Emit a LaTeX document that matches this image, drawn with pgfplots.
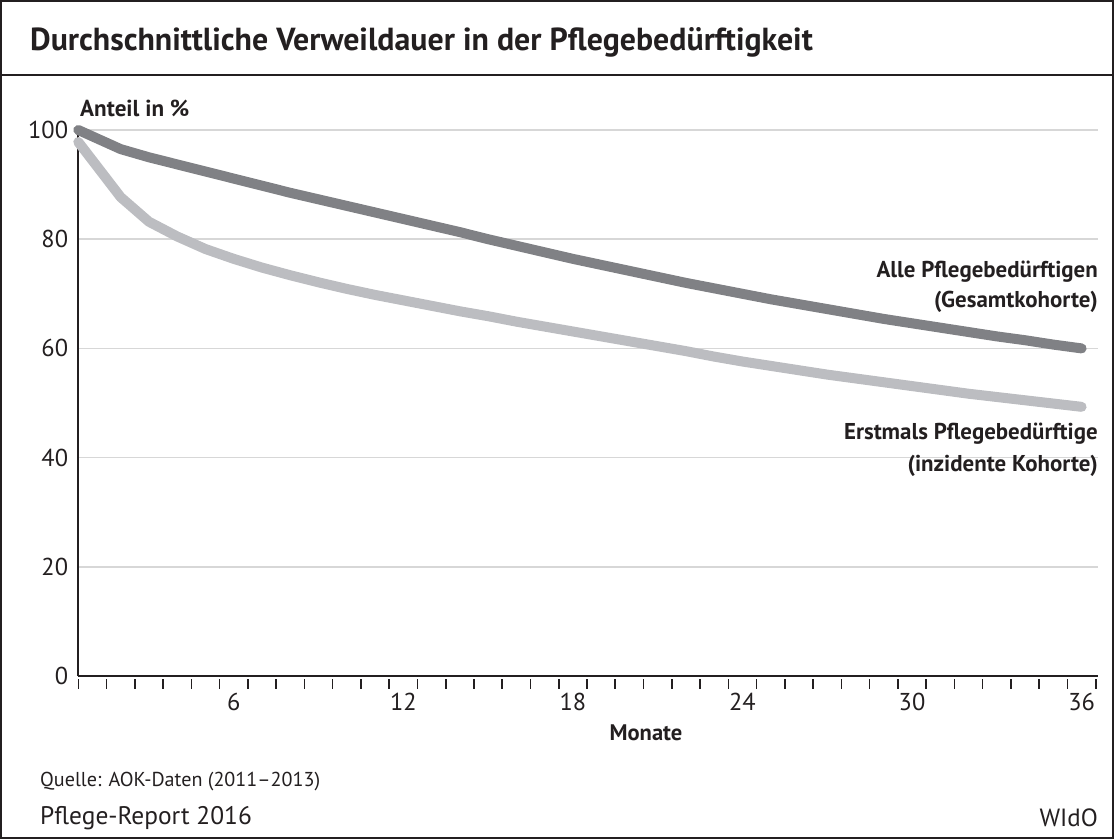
\documentclass[border=0pt]{standalone}
\usepackage{fontspec}
\setmainfont{PT Sans}
\usepackage{pgfplots}
\pgfplotsset{compat=1.18}
\usepackage{pgfplotstable}

\definecolor{darkline}{RGB}{128,129,133}
\definecolor{lightline}{RGB}{188,189,193}
\definecolor{gridgray}{RGB}{215,215,215}
\definecolor{txt}{RGB}{35,31,32}

% month positions: first value at the axis, month n at n-0.5
\pgfplotstableread{
x    y
0    100
1.5  96.5
2.5  95.0
3.5  93.7
4.5  92.4
5.5  91.1
6.5  89.8
7.5  88.5
8.5  87.3
9.5  86.1
10.5 84.9
11.5 83.7
12.5 82.5
13.5 81.3
14.5 80.0
15.5 78.8
16.5 77.6
17.5 76.4
18.5 75.3
19.5 74.2
20.5 73.1
21.5 72.0
22.5 71.0
23.5 70.0
24.5 69.0
25.5 68.1
26.5 67.2
27.5 66.3
28.5 65.4
29.5 64.6
30.5 63.8
31.5 63.0
32.5 62.2
33.5 61.5
34.5 60.7
35.5 60.0
}\gesamt

\pgfplotstableread{
x    y
0    97.8
1.5  87.7
2.5  83.2
3.5  80.5
4.5  78.2
5.5  76.4
6.5  74.8
7.5  73.4
8.5  72.1
9.5  70.9
10.5 69.8
11.5 68.8
12.5 67.8
13.5 66.8
14.5 65.9
15.5 64.9
16.5 64.0
17.5 63.1
18.5 62.2
19.5 61.3
20.5 60.4
21.5 59.5
22.5 58.5
23.5 57.6
24.5 56.8
25.5 56.0
26.5 55.2
27.5 54.5
28.5 53.8
29.5 53.1
30.5 52.4
31.5 51.7
32.5 51.1
33.5 50.5
34.5 49.9
35.5 49.3
}\inzident

\begin{document}
\begin{tikzpicture}[x=1bp,y=1bp]
\useasboundingbox (0,0) rectangle (1114,-839);
% frame and title bar
\draw[txt, line width=2bp] (1,-1) rectangle (1113,-838);
\draw[txt, line width=2bp] (1,-75) -- (1113,-75);
\node[anchor=west, text=txt, font=\fontsize{32}{36}\selectfont\bfseries, inner sep=0pt] at (30,-42) {Durchschnittliche Verweildauer in der Pflegebedürftigkeit};

\begin{axis}[
  at={(78.3bp,-676bp)}, anchor=south west,
  scale only axis, width=1019.7bp, height=546bp,
  xmin=0, xmax=36.08, ymin=0, ymax=100,
  axis lines*=left,
  axis line style={txt, line width=1.8bp},
  xtick={5.5,11.5,17.5,23.5,29.5,35.5},
  xticklabels={6,12,18,24,30,36},
  ytick={0,20,40,60,80,100},
  major tick length=0pt,
  ymajorgrids, grid style={gridgray, line width=1.6bp},
  /pgf/number format/assume math mode=true,
  ticklabel style={text=txt, font=\fontsize{24.5}{28}\selectfont, inner sep=0pt},
  xticklabel style={anchor=center, yshift=-26bp},
  yticklabel style={anchor=east, xshift=-10bp},
  clip=false,
]
\pgfplotsinvokeforeach{0,...,36}{
  \draw[txt, line width=1.6bp] (axis cs:#1,0) ++(0,-3bp) -- ++(0,-10bp);
}
\addplot[lightline, line width=10bp, line cap=round, line join=round] table[x=x,y=y] {\inzident};
\addplot[darkline, line width=10bp, line cap=round, line join=round] table[x=x,y=y] {\gesamt};
\end{axis}

\node[anchor=west, text=txt, font=\fontsize{23.2}{27}\selectfont\bfseries, inner sep=0pt] at (80,-108) {Anteil in \%};
\node[text=txt, font=\fontsize{22.6}{27}\selectfont\bfseries, inner sep=0pt] at (646,-733) {Monate};

\node[anchor=east, text=txt, font=\fontsize{23}{27}\selectfont\bfseries, inner sep=0pt] at (1098,-272) {Alle Pflegebedürftigen};
\node[anchor=east, text=txt, font=\fontsize{23}{27}\selectfont\bfseries, inner sep=0pt] at (1098,-302) {(Gesamtkohorte)};
\node[anchor=east, text=txt, font=\fontsize{23}{27}\selectfont\bfseries, inner sep=0pt] at (1098,-434) {Erstmals Pflegebedürftige};
\node[anchor=east, text=txt, font=\fontsize{23}{27}\selectfont\bfseries, inner sep=0pt] at (1098,-466) {(inzidente Kohorte)};

\node[anchor=west, text=txt, font=\fontsize{20.2}{24}\selectfont, inner sep=0pt] at (40,-782) {Quelle: AOK-Daten (2011–2013)};
\node[anchor=west, text=txt, font=\fontsize{25.5}{29}\selectfont, inner sep=0pt] at (40,-818) {Pflege-Report 2016};
\node[anchor=east, text=txt, font=\fontsize{25}{29}\selectfont, inner sep=0pt] at (1098,-818) {WIdO};
\end{tikzpicture}
\end{document}
